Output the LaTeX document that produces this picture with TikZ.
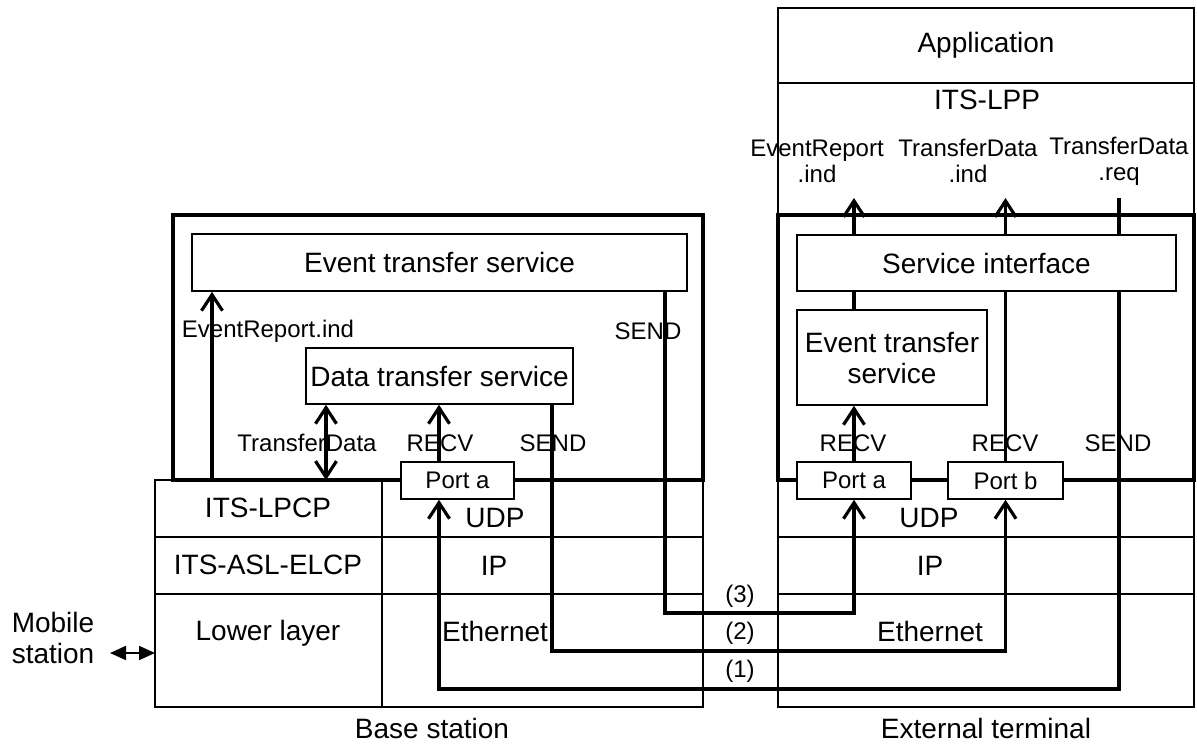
\documentclass[tikz,border=0pt]{standalone}
\usepackage{fontspec}
\setmainfont{Liberation Sans}
\usetikzlibrary{arrows.meta}
\newcommand{\bigsz}{\fontsize{14pt}{15.5pt}\selectfont}
\newcommand{\smallsz}{\fontsize{12pt}{13pt}\selectfont}
\tikzset{
    frameline/.style={line width=1.7pt},
    gridline/.style={line width=0.7pt},
    svcbox/.style={draw, fill=white, line width=0.8pt, inner sep=0pt,
        align=center, font=\bigsz},
    portbox/.style={draw, fill=white, line width=0.8pt, inner sep=0pt,
        font=\smallsz, minimum height=18.5pt},
    sigline/.style={line width=1.6pt},
    sigarrow/.style={sigline, -{Straight Barb[length=8pt,width=10.5pt]}},
    sigboth/.style={sigline,
        {Straight Barb[length=8pt,width=10.5pt]}-{Straight Barb[length=8pt,width=10.5pt]}},
    mobarrow/.style={line width=0.9pt,
        {Triangle[length=8pt,width=7pt]}-{Triangle[length=8pt,width=7pt]}},
    lbl/.style={font=\smallsz, inner sep=0pt, align=center},
    biglbl/.style={font=\bigsz, inner sep=0pt, align=center}
}

\begin{document}
\begin{tikzpicture}[x=0.5pt, y=-0.5pt]
\useasboundingbox (0,0) rectangle (1197,745);

% protocol tables
\draw[gridline] (155,480) rectangle (703,707);
\draw[gridline] (382,480) -- (382,707);
\draw[gridline] (155,537) -- (703,537);
\draw[gridline] (155,594) -- (703,594);
\draw[gridline] (778,480) rectangle (1194,707);
\draw[gridline] (778,537) -- (1194,537);
\draw[gridline] (778,594) -- (1194,594);
\draw[gridline] (778,83) rectangle (1194,215);
\node[svcbox, line width=0.7pt, minimum width=208pt, minimum height=37.5pt] (app) at (986,45.5) {Application};

% thick frames
\draw[frameline] (173,215) rectangle (703,480);
\draw[frameline] (778,215) rectangle (1194,480);

% service blocks and ports
\node[svcbox, minimum width=247.5pt, minimum height=28.5pt] (etsL) at (439.5,262.5) {Event transfer service};
\node[svcbox, minimum width=133.5pt, minimum height=28pt] (dtsL) at (439.5,376) {Data transfer service};
\node[portbox, minimum width=56.5pt] (portaL) at (457.5,480.5) {Port a};
\node[svcbox, minimum width=189.5pt, minimum height=28pt] (sif) at (986.5,263) {Service interface};
\node[svcbox, minimum width=95pt, minimum height=47.5pt] (etsR) at (892,357.5) {Event transfer\\service};
\node[portbox, minimum width=57pt] (portaR) at (854,480.5) {Port a};
\node[portbox, minimum width=57.5pt] (portbR) at (1005.5,480.5) {Port b};

\coordinate (bsfloor) at (0,480);
\coordinate (xev) at (212,0);
\coordinate (xtd) at (326,0);
\coordinate (xrv) at (439,0);
\coordinate (xreq) at (1119,0);
\coordinate (ltop) at (0,198);
\coordinate (p1) at (439,689);
\coordinate (p2) at (552,651);
\coordinate (p3) at (665,613);

% base station signals
\draw[sigarrow] (xev |- bsfloor) -- (etsL.south -| xev);
\draw[sigboth] (xtd |- bsfloor) -- (dtsL.south -| xtd);
\draw[sigarrow] (portaL.north -| xrv) -- (dtsL.south -| xrv);

% paths (1) (2) (3)
\draw[sigarrow] (etsL.south -| p3) -- (p3) -| (portaR.south);
\draw[sigarrow] (dtsL.south -| p2) -- (p2) -| (portbR.south);
\draw[sigarrow] (sif.south -| xreq) |- (p1) -- (portaL.south -| p1);

% external terminal signals
\draw[sigarrow] (portaR.north) -- (etsR.south -| portaR.north);
\draw[sigline] (etsR.north -| portaR.north) -- (sif.south -| portaR.north);
\draw[sigarrow] (sif.north -| portaR.north) -- (portaR.north |- ltop);
\draw[sigline] (portbR.north) -- (sif.south -| portbR.north);
\draw[sigarrow] (sif.north -| portbR.north) -- (portbR.north |- ltop);
\draw[sigline] (xreq |- ltop) -- (sif.north -| xreq);

% labels
\node[lbl] (evrepL) at (268,331) {EventReport.ind};
\node[lbl] (sendE) at (648,331) {SEND};
\node[lbl] (tdL) at (307,443) {TransferData};
\node[lbl] (recvL) at (440,443) {RECV};
\node[lbl] (sendD) at (553,443) {SEND};
\node[lbl] (recvA) at (853,443) {RECV};
\node[lbl] (recvB) at (1005,443) {RECV};
\node[lbl] (sendR) at (1118,443) {SEND};
\node[lbl] (evind) at (817,161) {EventReport\\.ind};
\node[lbl] (tdind) at (968,161) {TransferData\\.ind};
\node[lbl] (tdreq) at (1119,161) {TransferData\\.req};
\node[lbl] (n3) at (740,596) {(3)};
\node[lbl] (n2) at (740,633) {(2)};
\node[lbl] (n1) at (740,671) {(1)};

\node[biglbl] (lpp) at (987,100) {ITS-LPP};
\node[biglbl] (lpcp) at (268,508) {ITS-LPCP};
\node[biglbl] (elcp) at (268,565) {ITS-ASL-ELCP};
\node[biglbl] (lower) at (268,633) {Lower layer};
\node[biglbl] (udpL) at (495,518) {UDP};
\node[biglbl] (ipL) at (494,566) {IP};
\node[biglbl] (ethL) at (495,631) {Ethernet};
\node[biglbl] (udpR) at (929,518) {UDP};
\node[biglbl] (ipR) at (930,566) {IP};
\node[biglbl] (ethR) at (930,631) {Ethernet};
\node[biglbl] (bs) at (432,728) {Base station};
\node[biglbl] (et) at (986,728) {External terminal};

% mobile station
\node[biglbl] (mob) at (53,637.5) {Mobile\\station};
\coordinate (mobE) at (110,653);
\coordinate (tblW) at (155,653);
\draw[mobarrow] (mobE) -- (tblW);
\end{tikzpicture}
\end{document}
